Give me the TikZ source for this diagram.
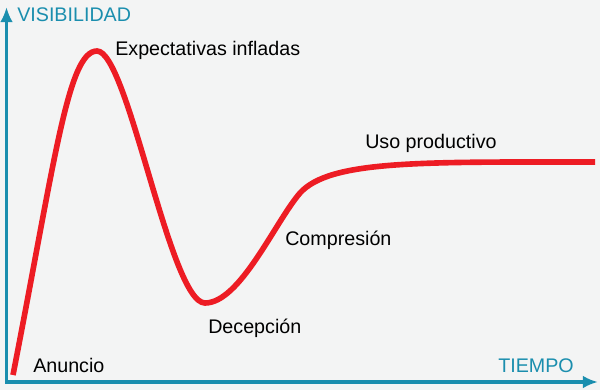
\documentclass[tikz,border=0pt]{standalone}
\usepackage{fontspec}
\setmainfont{Liberation Sans}
\usetikzlibrary{arrows.meta}
\definecolor{axisblue}{HTML}{1A8EAE}
\definecolor{hypered}{HTML}{ED1C24}
\definecolor{bggray}{HTML}{F3F4F4}

\begin{document}
\begin{tikzpicture}[x=0.025cm, y=-0.025cm,
    axis/.style={-{Latex[length=0.38cm, width=0.32cm]}, line width=2.2pt, axisblue},
    hype/.style={line width=4pt, hypered},
    phase/.style={anchor=base west, inner sep=0pt, font=\fontsize{14}{16}\selectfont},
    axlabel/.style={phase, text=axisblue}]
  %--- Background and frame
  \fill[bggray] (0,0) rectangle (600,390);
  \useasboundingbox (0,0) rectangle (600,390);
  %--- Axes
  \coordinate (O)  at (6.5,382);
  \coordinate (Y)  at (6.5,7);
  \coordinate (X)  at (598,382);
  \draw[axis] (6.5,383.5) -- (Y);
  \draw[axis] (5.5,382) -- (X);
  \node[axlabel] (vis) at (17,21) {VISIBILIDAD};
  \node[axlabel] (tie) at (498,372) {TIEMPO};
  %--- Hype curve
  \draw[hype] (13,375) .. controls (55,160) and (68,51) .. (97,51)
    .. controls (128,51) and (170,303) .. (205,303)
    .. controls (240,303) and (275,222) .. (300,193)
    .. controls (330,160) and (420,162) .. (595,162);
  %--- Phases
  \node[phase] (anu) at (33,372)  {Anuncio};
  \node[phase] (exp) at (115,55)  {Expectativas infladas};
  \node[phase] (dec) at (208,333) {Decepción};
  \node[phase] (com) at (285,245) {Compresión};
  \node[phase] (uso) at (365,148) {Uso productivo};
\end{tikzpicture}
\end{document}
